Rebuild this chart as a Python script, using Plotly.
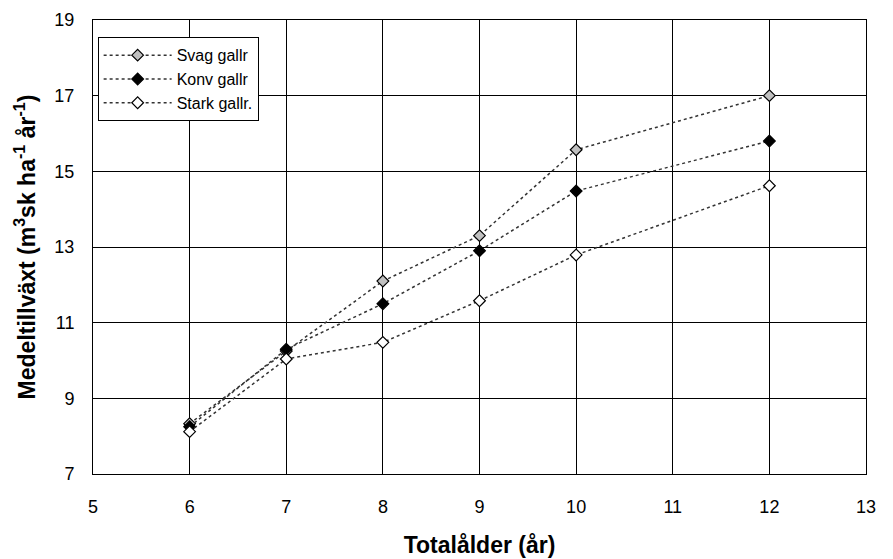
import plotly.graph_objects as go

ages = [6, 7, 8, 9, 10, 12]
svag = [8.33, 10.25, 12.1, 13.3, 15.57, 17.0]
konv = [8.25, 10.3, 11.5, 12.9, 14.48, 15.8]
stark = [8.12, 10.04, 10.48, 11.58, 12.79, 14.62]

series = [
    ("Svag gallr", svag, "#c0c0c0"),
    ("Konv gallr", konv, "#000000"),
    ("Stark gallr.", stark, "#ffffff"),
]

fig = go.Figure()
for name, vals, fill in series:
    fig.add_trace(go.Scatter(
        x=ages, y=vals, name=name, mode="lines+markers",
        line=dict(color="#333333", width=1.5, dash="dot"),
        marker=dict(symbol="diamond", size=9, color=fill,
                    line=dict(color="#000000", width=1.2)),
    ))

font = "Liberation Sans, Arial, sans-serif"
fig.update_layout(
    width=893, height=559,
    margin=dict(l=93, r=27, t=20, b=85),
    paper_bgcolor="white", plot_bgcolor="white",
    font=dict(family=font, size=18, color="black"),
    showlegend=True,
    legend=dict(x=0.006, y=0.962, xanchor="left", yanchor="top",
                bordercolor="black", borderwidth=1, bgcolor="white",
                font=dict(size=16), tracegroupgap=0, itemwidth=68),
    xaxis=dict(range=[5, 13], dtick=1, tick0=5, showgrid=True, automargin=False,
               gridcolor="black", gridwidth=1, showline=True, linecolor="black",
               mirror=True, ticks="", zeroline=False, ticklabelstandoff=16,
               title=dict(text="<b>Totalålder (år)</b>", font=dict(size=23), standoff=21)),
    yaxis=dict(range=[7, 19], dtick=2, tick0=7, showgrid=True, automargin=False,
               gridcolor="black", gridwidth=1, showline=True, linecolor="black",
               mirror=True, ticks="", zeroline=False, ticklabelstandoff=14,
               title=dict(text="<b>Medeltillväxt (m<sup>3</sup>sk ha<sup>-1</sup> år<sup>-1</sup>)</b>",
                          font=dict(size=23), standoff=12)),
)

fig.write_html("out.html")
